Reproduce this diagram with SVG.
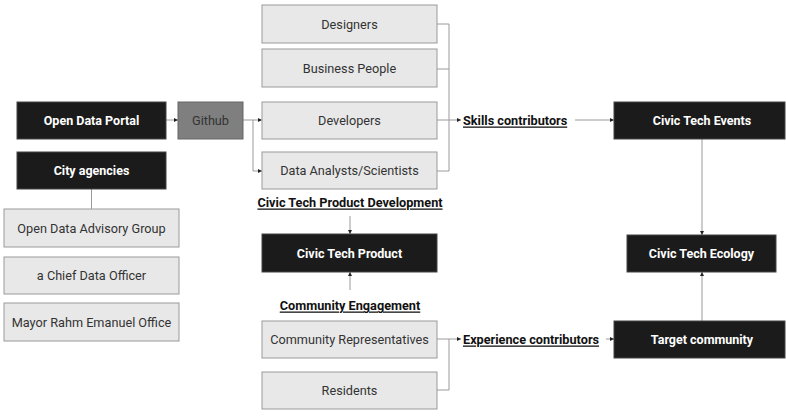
<svg xmlns="http://www.w3.org/2000/svg" width="786" height="416" viewBox="0 0 786 416">
<defs>
<style>
.dark rect{fill:#1b1b1b;stroke:#444;stroke-width:1}
.light rect{fill:#e8e8e8;stroke:#9a9a9a;stroke-width:1}
.gh rect{fill:#7f7f7f;stroke:#666;stroke-width:1}
.dark text{fill:#fff;font-family:Roboto,"Liberation Sans",sans-serif;font-weight:bold;font-size:12.5px;text-anchor:middle;dominant-baseline:central}
.light text,.gh text{fill:#333;font-family:Roboto,"Liberation Sans",sans-serif;font-size:12.7px;text-anchor:middle;dominant-baseline:central}
.lbl text{fill:#111;font-family:Roboto,"Liberation Sans",sans-serif;font-weight:bold;font-size:12.7px;text-decoration:underline;dominant-baseline:central}
.c{fill:none;stroke:#9a9a9a;stroke-width:1}
.a{marker-end:url(#ah)}
</style>
<marker id="ah" viewBox="0 0 6 6" refX="6" refY="3" markerWidth="4" markerHeight="4" markerUnits="userSpaceOnUse" orient="auto">
<path d="M0,0 L6,3 L0,6 Z" fill="#222"/>
</marker>
</defs>
<rect width="786" height="416" fill="#fff"/>
<g id="connectors">
<path class="c a" d="M166,120 H178"/>
<path class="c a" d="M243,120 H262"/>
<path class="c a" d="M253,120 V171 H262"/>
<path class="c" d="M437,24 H449 V171 H437"/>
<path class="c" d="M437,69 H449"/>
<path class="c a" d="M437,120 H461"/>
<path class="c a" d="M575,120 H614"/>
<path class="c" d="M91.5,189 V209"/>
<path class="c a" d="M350,216 V234"/>
<path class="c a" d="M350,290 V272"/>
<path class="c" d="M437,390 H449 V339"/>
<path class="c a" d="M437,339 H461"/>
<path class="c a" d="M606,339 H614"/>
<path class="c a" d="M702,139 V235"/>
<path class="c a" d="M702,321 V272"/>
</g>
<g id="open-data-portal" class="dark"><rect x="17" y="102" width="149" height="37"/><text x="91.5" y="120.5">Open Data Portal</text></g>
<g id="github" class="gh"><rect x="178" y="102" width="65" height="37"/><text x="210.5" y="120.5">Github</text></g>
<g id="city-agencies" class="dark"><rect x="17" y="152" width="149" height="37"/><text x="91.5" y="170.5">City agencies</text></g>
<g id="open-data-advisory-group" class="light"><rect x="4" y="209" width="175" height="38"/><text x="91.5" y="228">Open Data Advisory Group</text></g>
<g id="chief-data-officer" class="light"><rect x="4" y="257" width="175" height="37"/><text x="91.5" y="275.5">a Chief Data Officer</text></g>
<g id="mayor-office" class="light"><rect x="4" y="303" width="175" height="38"/><text x="91.5" y="322">Mayor Rahm Emanuel Office</text></g>
<g id="designers" class="light"><rect x="262" y="5" width="175" height="38"/><text x="349.5" y="24">Designers</text></g>
<g id="business-people" class="light"><rect x="262" y="49" width="175" height="38"/><text x="349.5" y="68.5">Business People</text></g>
<g id="developers" class="light"><rect x="262" y="102" width="175" height="37"/><text x="349.5" y="120">Developers</text></g>
<g id="data-analysts" class="light"><rect x="262" y="152" width="175" height="37"/><text x="349.5" y="170.5">Data Analysts/Scientists</text></g>
<g id="civic-tech-product-development" class="lbl"><text x="350" y="202" text-anchor="middle">Civic Tech Product Development</text></g>
<g id="civic-tech-product" class="dark"><rect x="262" y="234" width="175" height="38"/><text x="349.5" y="253">Civic Tech Product</text></g>
<g id="community-engagement" class="lbl"><text x="350" y="305" text-anchor="middle">Community Engagement</text></g>
<g id="community-representatives" class="light"><rect x="262" y="321" width="175" height="37"/><text x="349.5" y="339.5">Community Representatives</text></g>
<g id="residents" class="light"><rect x="262" y="372" width="175" height="37"/><text x="349.5" y="390.5">Residents</text></g>
<g id="skills-contributors" class="lbl"><text x="463" y="120">Skills contributors</text></g>
<g id="experience-contributors" class="lbl"><text x="463" y="339">Experience contributors</text></g>
<g id="civic-tech-events" class="dark"><rect x="614" y="102" width="171" height="37"/><text x="702" y="120.5">Civic Tech Events</text></g>
<g id="civic-tech-ecology" class="dark"><rect x="627" y="235" width="149" height="37"/><text x="701.5" y="253.5">Civic Tech Ecology</text></g>
<g id="target-community" class="dark"><rect x="614" y="321" width="171" height="37"/><text x="702" y="339.5">Target community</text></g>
</svg>
